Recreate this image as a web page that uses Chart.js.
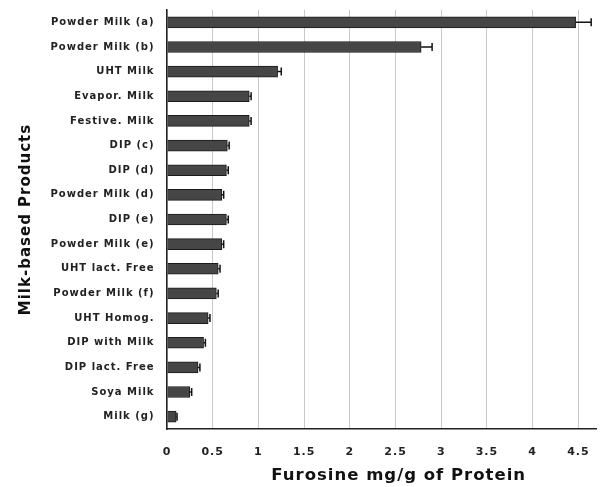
<!DOCTYPE html>
<html>
<head>
<meta charset="utf-8">
<script src="https://cdn.jsdelivr.net/npm/chart.js@4/dist/chart.umd.min.js"></script>
<style>
  html, body { margin: 0; padding: 0; background: #fff; }
  #wrap { width: 607px; height: 487px; }
</style>
</head>
<body>
<div id="wrap"><canvas id="chart"></canvas></div>
<script>
const products = [
    'Powder Milk (a)', 'Powder Milk (b)', 'UHT Milk', 'Evapor. Milk', 'Festive. Milk',
    'DIP (c)', 'DIP (d)', 'Powder Milk (d)', 'DIP (e)', 'Powder Milk (e)',
    'UHT lact. Free', 'Powder Milk (f)', 'UHT Homog.', 'DIP with Milk', 'DIP lact. Free',
    'Soya Milk', 'Milk (g)'
];
const furosine = [4.47, 2.78, 1.21, 0.90, 0.90, 0.66, 0.65, 0.60, 0.65, 0.60, 0.56, 0.54, 0.45, 0.40, 0.34, 0.25, 0.10];
const errors = [0.17, 0.12, 0.04, 0.02, 0.02, 0.02, 0.02, 0.02, 0.02, 0.02, 0.02, 0.02, 0.02, 0.02, 0.02, 0.02, 0.01];
const xTicks = [0, 0.5, 1, 1.5, 2, 2.5, 3, 3.5, 4, 4.5];

// wide spaced lettering like the scanned figure
const spacing = {
    id: 'spacing',
    beforeLayout(chart) { chart.ctx.letterSpacing = '1px'; },
    beforeDraw(chart) { chart.ctx.letterSpacing = '1px'; }
};

// draws the error whiskers on the right end of each bar
const errorBars = {
    id: 'errorBars',
    afterDatasetsDraw(chart) {
        const ctx = chart.ctx;
        const xs = chart.scales.x;
        const meta = chart.getDatasetMeta(0);
        ctx.save();
        ctx.strokeStyle = '#111';
        ctx.lineWidth = 1.5;
        meta.data.forEach((bar, i) => {
            const x0 = xs.getPixelForValue(furosine[i]);
            const x1 = xs.getPixelForValue(furosine[i] + errors[i]);
            const y = bar.y;
            ctx.beginPath();
            ctx.moveTo(x0, y);
            ctx.lineTo(x1, y);
            ctx.moveTo(x1, y - 4);
            ctx.lineTo(x1, y + 4);
            ctx.stroke();
        });
        ctx.restore();
    }
};

new Chart(document.getElementById('chart').getContext('2d'), {
    type: 'bar',
    data: {
        labels: products,
        datasets: [{
            data: furosine,
            backgroundColor: '#464646',
            borderColor: '#1a1a1a',
            borderWidth: 1,
            barThickness: 11,
        }]
    },
    options: {
        indexAxis: 'y',
        responsive: true,
        maintainAspectRatio: false,
        animation: false,
        layout: { padding: { top: 10, right: 9, left: 17, bottom: 1 } },
        plugins: {
            legend: { display: false },
            tooltip: { enabled: false }
        },
        scales: {
            x: {
                min: 0,
                max: 4.7,
                afterBuildTicks: (scale) => {
                    scale.ticks = xTicks.map(v => ({ value: v }));
                },
                ticks: {
                    color: '#222',
                    font: { family: 'DejaVu Sans', size: 11, weight: 'bold' },
                    padding: 17,
                    maxRotation: 0,
                    callback: (v) => String(v)
                },
                grid: { color: '#c8c8c8', lineWidth: 1, drawTicks: false },
                border: { color: '#222', width: 1.5 },
                title: {
                    display: true,
                    text: '\u00a0\u00a0\u00a0\u00a0\u00a0Furosine mg/g of Protein',
                    color: '#111',
                    font: { family: 'DejaVu Sans', size: 16.5, weight: 'bold' },
                    padding: { top: -10, bottom: 0 }
                }
            },
            y: {
                afterFit: (scale) => { scale.width = 150; },
                ticks: {
                    color: '#222',
                    font: { family: 'DejaVu Sans', size: 10, weight: 'bold' },
                    padding: 0,
                    callback: (v, i) => products[i] + '\u00a0'
                },
                grid: { display: false },
                border: { color: '#222', width: 1.5 },
                title: {
                    display: true,
                    text: 'Milk-based Products',
                    color: '#111',
                    font: { family: 'DejaVu Sans', size: 15, weight: 'bold' },
                    padding: { top: 0, bottom: 2 }
                }
            }
        }
    },
    plugins: [spacing, errorBars]
});
</script>
</body>
</html>
